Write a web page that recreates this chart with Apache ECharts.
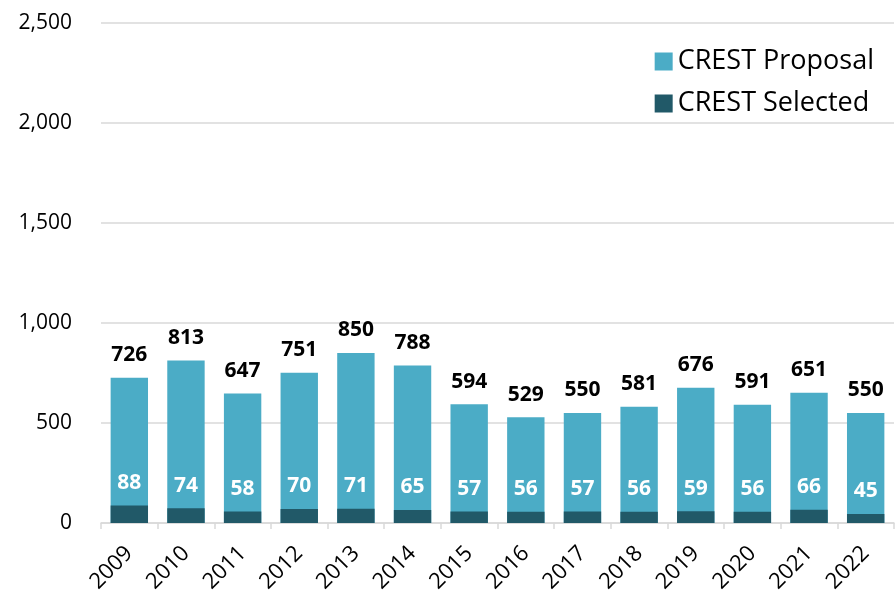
<!DOCTYPE html>
<html><head><meta charset="utf-8">
<script src="https://cdn.jsdelivr.net/npm/echarts@6/dist/echarts.min.js"></script>
<style>html,body{margin:0;padding:0;background:#fff}#c{width:895px;height:591px}</style>
</head><body><div id="c"></div>
<script>
const years = ['2009','2010','2011','2012','2013','2014','2015','2016','2017','2018','2019','2020','2021','2022'];
const proposal = [726,813,647,751,850,788,594,529,550,581,676,591,651,550];
const selected = [88,74,58,70,71,65,57,56,57,56,59,56,66,45];
const yTicks = [0,500,1000,1500,2000,2500];
const font = 'Open Sans, Noto Sans, sans-serif';
const chart = echarts.init(document.getElementById('c'));
chart.setOption({
  animation:false,
  grid:{left:101,right:1,top:23,bottom:68,containLabel:false,outerBoundsMode:'none'},
  legend:{
    orient:'vertical', right:16, top:43, itemWidth:18, itemHeight:18, itemGap:15,
    icon:'rect',
    textStyle:{fontSize:27,fontFamily:font,color:'#000',padding:[0,0,0,0]},
    data:['CREST Proposal','CREST Selected']
  },
  xAxis:{
    type:'category', data:years,
    axisLine:{lineStyle:{color:'#d9d9d9',width:1.5}},
    axisTick:{show:true,length:6,lineStyle:{color:'#d9d9d9',width:1.5}},
    axisLabel:{rotate:45,fontSize:22,fontFamily:font,color:'#000',margin:27,interval:0}
  },
  yAxis:{
    type:'value', min:yTicks[0], max:yTicks[yTicks.length-1], interval:500,
    axisLine:{show:false}, axisTick:{show:false},
    splitLine:{lineStyle:{color:'#d9d9d9',width:1.5}},
    axisLabel:{fontSize:21,fontFamily:font,color:'#000',margin:29,
      formatter:v=>v.toLocaleString('en-US')}
  },
  series:[
    {name:'CREST Proposal',type:'bar',data:proposal,barWidth:'66%',
     itemStyle:{color:'#4BACC6'},
     label:{show:true,position:'top',distance:12,fontSize:21,fontWeight:'bold',fontFamily:font,color:'#000'}},
    {name:'CREST Selected',type:'bar',data:selected,barWidth:'66%',barGap:'-100%',
     itemStyle:{color:'#215968'},
     label:{show:true,position:'top',distance:12,fontSize:21,fontWeight:'bold',fontFamily:font,color:'#fff'}}
  ]
});
</script></body></html>
